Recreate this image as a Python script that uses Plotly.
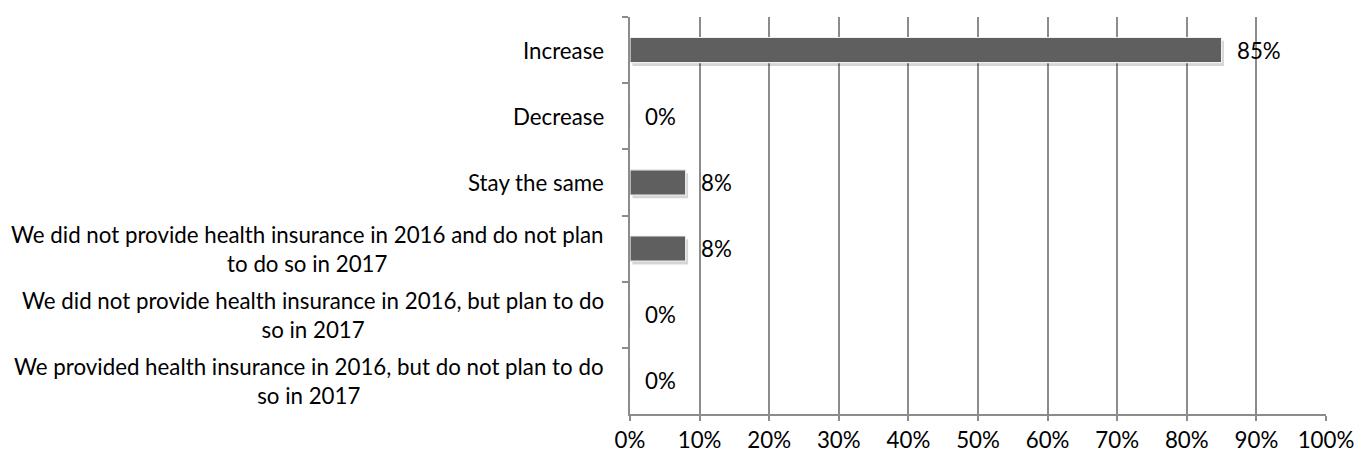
import plotly.graph_objects as go

categories = [
    "Increase",
    "Decrease",
    "Stay the same",
    "We did not provide health insurance in 2016 and do not plan<br>to do so in 2017",
    "We did not provide health insurance in 2016, but plan to do<br>so in 2017",
    "We provided health insurance in 2016, but do not plan to do<br>so in 2017",
]
values = [85, 0, 8, 8, 0, 0]
value_labels = ["85%", "0%", "8%", "8%", "0%", "0%"]
x_ticks = [0, 10, 20, 30, 40, 50, 60, 70, 80, 90, 100]
x_tick_labels = ["0%", "10%", "20%", "30%", "40%", "50%", "60%", "70%", "80%", "90%", "100%"]

FONT = "Lato, Carlito, 'Open Sans', sans-serif"
FS = 22.3
GRID = "#8c8c8c"
BAR_W = 0.38

fig = go.Figure()
# soft drop shadow behind each bar
fig.add_trace(go.Bar(
    y=categories, x=values, orientation="h", base=0.35,
    width=BAR_W, offset=-BAR_W / 2 + 0.05,
    marker=dict(color="rgba(0,0,0,0.16)", line=dict(width=0)),
    hoverinfo="skip", showlegend=False,
))
fig.add_trace(go.Bar(
    y=categories, x=values, orientation="h",
    width=BAR_W, offset=-BAR_W / 2,
    marker=dict(color="#5f5f5f", line=dict(color="#f0f0f0", width=1.2)),
    hoverinfo="skip", showlegend=False,
))

annotations = []
for c, v, t in zip(categories, values, value_labels):
    annotations.append(dict(x=v, y=c, xref="x", yref="y", text=t, showarrow=False,
                            xanchor="left", yanchor="middle", xshift=13,
                            font=dict(family=FONT, size=FS, color="#000000")))
    annotations.append(dict(x=0, y=c, xref="paper", yref="y", text=c, showarrow=False,
                            xanchor="right", yanchor="middle", align="center", xshift=-24,
                            font=dict(family=FONT, size=FS, color="#000000")))

fig.update_layout(
    width=1362, height=454,
    margin=dict(l=622, r=44, t=9, b=41),
    paper_bgcolor="white", plot_bgcolor="white",
    barmode="overlay",
    font=dict(family=FONT, size=FS, color="#000000"),
    annotations=annotations,
    xaxis=dict(
        range=[0, 100], tickvals=x_ticks, ticktext=x_tick_labels,
        showgrid=True, gridcolor=GRID, gridwidth=1.5,
        showline=True, linecolor=GRID, linewidth=1.5,
        ticks="outside", ticklen=5, tickcolor=GRID, tickwidth=1.5,
        zeroline=False, fixedrange=True,
        tickfont=dict(family=FONT, size=FS, color="#000000"),
    ),
    yaxis=dict(
        type="category", autorange="reversed",
        showticklabels=False, tickson="boundaries",
        ticks="outside", ticklen=6, tickcolor=GRID, tickwidth=1.5,
        showline=True, linecolor=GRID, linewidth=1.5,
        showgrid=False, zeroline=False, fixedrange=True,
    ),
)

fig.write_html("out.html")
